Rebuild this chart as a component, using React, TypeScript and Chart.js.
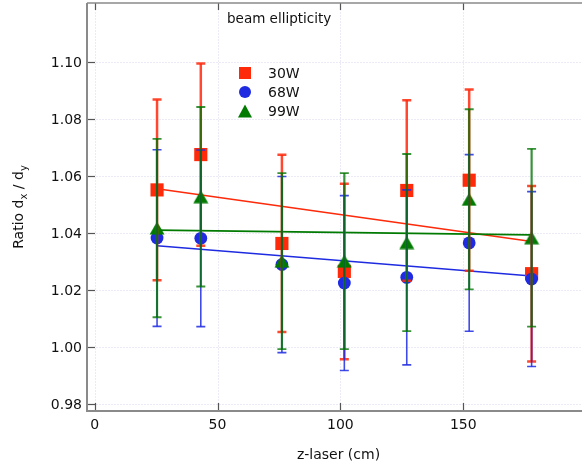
import React, { useEffect, useRef } from "react";
import { Chart, registerables } from "chart.js";

Chart.register(...registerables);

// ---- data ----
const xValues = [25.4, 43.2, 76.2, 101.6, 127, 152.4, 177.8];
const ratio30W = [1.0551, 1.0675, 1.0363, 1.0265, 1.0549, 1.0585, 1.0257];
const err30W = [0.0317, 0.032, 0.0311, 0.0308, 0.0317, 0.0318, 0.0308];
const ratio68W = [1.0382, 1.0381, 1.0289, 1.0224, 1.0244, 1.0365, 1.0238];
const err68W = [0.031, 0.031, 0.0309, 0.0307, 0.0307, 0.031, 0.0307];
const ratio99W = [1.0417, 1.0527, 1.0301, 1.0301, 1.0366, 1.0518, 1.0383];
const err99W = [0.0313, 0.0315, 0.0309, 0.0309, 0.0311, 0.0316, 0.0312];
const fitX = [25.4, 177.8];
const fit30W = [1.0555, 1.037];
const fit68W = [1.0355, 1.0249];
const fit99W = [1.041, 1.0393];
const seriesNames = ["30W", "68W", "99W"];
const xTicks = [0, 50, 100, 150];
const xTickLabels = ["0", "50", "100", "150"];
const yTicks = [0.98, 1.0, 1.02, 1.04, 1.06, 1.08, 1.1];
const yTickLabels = ["0.98", "1.00", "1.02", "1.04", "1.06", "1.08", "1.10"];
const legendTitle = "beam ellipticity";
const xTitle = "z-laser (cm)";

const RED = "#ff2a0a";
const BLUE = "#1e2be0";
const GREEN = "#007a00";
const FONT = "'DejaVu Sans', sans-serif";

function triangleImage(color: string) {
  const c = document.createElement("canvas");
  c.width = 16;
  c.height = 14;
  const g = c.getContext("2d")!;
  g.fillStyle = color;
  g.beginPath();
  g.moveTo(8, 0.5);
  g.lineTo(15.5, 13.5);
  g.lineTo(0.5, 13.5);
  g.closePath();
  g.fill();
  return c;
}

const pts = (ys: number[], xs: number[] = xValues) => xs.map((x, i) => ({ x, y: ys[i] }));

export default function App() {
  const ref = useRef<HTMLCanvasElement>(null);
  useEffect(() => {
    const canvas = ref.current!;
    const tri = triangleImage(GREEN);
    const errorSets = [
      { vals: ratio30W, errs: err30W, color: "rgba(255,40,10,0.85)", lw: 2.5, cw: 9, clw: 2.5 },
      { vals: ratio68W, errs: err68W, color: "rgba(30,43,224,0.85)", lw: 1.6, cw: 9, clw: 1.6 },
      { vals: ratio99W, errs: err99W, color: "rgba(0,115,0,0.78)", lw: 2.2, cw: 9, clw: 1.8 },
    ];

    const plugin = {
      id: "custom",
      beforeDatasetsDraw(chart: any) {
        const { ctx, chartArea: a } = chart;
        const xs = chart.scales.x;
        const ys = chart.scales.y;
        ctx.save();
        // grid
        ctx.strokeStyle = "#ebebf8";
        ctx.lineWidth = 1;
        ctx.setLineDash([2, 1]);
        ys.ticks.forEach((t: any) => {
          const py = Math.round(ys.getPixelForValue(t.value)) + 0.5;
          ctx.beginPath();
          ctx.moveTo(a.left, py);
          ctx.lineTo(a.right, py);
          ctx.stroke();
        });
        xs.ticks.forEach((t: any) => {
          const px = Math.round(xs.getPixelForValue(t.value)) + 0.5;
          ctx.beginPath();
          ctx.moveTo(px, a.top);
          ctx.lineTo(px, a.bottom);
          ctx.stroke();
        });
        ctx.setLineDash([]);
        // inward ticks
        ctx.strokeStyle = "#555";
        ctx.lineWidth = 1.2;
        ys.ticks.forEach((t: any) => {
          const py = Math.round(ys.getPixelForValue(t.value)) + 0.5;
          ctx.beginPath();
          ctx.moveTo(a.left, py);
          ctx.lineTo(a.left + 8, py);
          ctx.stroke();
        });
        xs.ticks.forEach((t: any) => {
          const px = Math.round(xs.getPixelForValue(t.value)) + 0.5;
          ctx.beginPath();
          ctx.moveTo(px, a.bottom);
          ctx.lineTo(px, a.bottom - 8);
          ctx.moveTo(px, a.top);
          ctx.lineTo(px, a.top + 7);
          ctx.stroke();
        });
        // borders
        ctx.strokeStyle = "#8a8a8a";
        ctx.lineWidth = 2;
        ctx.beginPath();
        ctx.moveTo(a.left, a.top);
        ctx.lineTo(a.left, a.bottom);
        ctx.lineTo(a.right, a.bottom);
        ctx.stroke();
        ctx.lineWidth = 1.5;
        ctx.beginPath();
        ctx.moveTo(a.left, a.top);
        ctx.lineTo(a.right, a.top);
        ctx.stroke();
        ctx.restore();
      },
      afterDatasetsDraw(chart: any) {
        const { ctx } = chart;
        const xs = chart.scales.x;
        const ys = chart.scales.y;
        ctx.save();
        errorSets.forEach((s) => {
          ctx.strokeStyle = s.color;
          xValues.forEach((xv, i) => {
            const px = xs.getPixelForValue(xv);
            const top = ys.getPixelForValue(s.vals[i] + s.errs[i]);
            const bot = ys.getPixelForValue(s.vals[i] - s.errs[i]);
            ctx.lineWidth = s.lw;
            ctx.beginPath();
            ctx.moveTo(px, top);
            ctx.lineTo(px, bot);
            ctx.stroke();
            ctx.lineWidth = s.clw;
            ctx.beginPath();
            ctx.moveTo(px - s.cw / 2, top);
            ctx.lineTo(px + s.cw / 2, top);
            ctx.moveTo(px - s.cw / 2, bot);
            ctx.lineTo(px + s.cw / 2, bot);
            ctx.stroke();
          });
        });
        ctx.restore();
      },
      afterDraw(chart: any) {
        const { ctx, chartArea: a } = chart;
        const xs = chart.scales.x;
        const ys = chart.scales.y;
        ctx.save();
        ctx.fillStyle = "#111";
        // y tick labels
        ctx.font = `14px ${FONT}`;
        ctx.textAlign = "right";
        ctx.textBaseline = "middle";
        ys.ticks.forEach((t: any, i: number) => {
          ctx.fillText(yTickLabels[i], a.left - 5, ys.getPixelForValue(t.value) + 1);
        });
        // x tick labels
        ctx.textAlign = "center";
        ctx.textBaseline = "top";
        xs.ticks.forEach((t: any, i: number) => {
          ctx.fillText(xTickLabels[i], xs.getPixelForValue(t.value), a.bottom + 7);
        });
        // x title
        ctx.textBaseline = "middle";
        ctx.fillText(xTitle, (a.left + a.right) / 2 + 4, 455);
        // y title with subscripts
        const parts: [string, boolean][] = [
          ["Ratio d", false],
          ["x", true],
          [" / d", false],
          ["y", true],
        ];
        const mainF = `14px ${FONT}`;
        const subF = `10px ${FONT}`;
        let total = 0;
        parts.forEach(([t, sub]) => {
          ctx.font = sub ? subF : mainF;
          total += ctx.measureText(t).width;
        });
        ctx.translate(23, (a.top + a.bottom) / 2);
        ctx.rotate(-Math.PI / 2);
        ctx.textAlign = "left";
        ctx.textBaseline = "alphabetic";
        let cx = -total / 2;
        parts.forEach(([t, sub]) => {
          ctx.font = sub ? subF : mainF;
          ctx.fillText(t, cx, sub ? 4 : 0);
          cx += ctx.measureText(t).width;
        });
        ctx.setTransform(1, 0, 0, 1, 0, 0);
        // legend
        ctx.font = `13.5px ${FONT}`;
        ctx.textAlign = "left";
        ctx.textBaseline = "middle";
        ctx.fillText(legendTitle, 227, 19);
        ctx.font = `14px ${FONT}`;
        const lx = 245;
        const rows = [73, 92, 111];
        ctx.fillStyle = RED;
        ctx.fillRect(lx - 6, rows[0] - 6, 12, 12);
        ctx.fillStyle = BLUE;
        ctx.beginPath();
        ctx.arc(lx, rows[1], 6, 0, Math.PI * 2);
        ctx.fill();
        ctx.fillStyle = GREEN;
        ctx.beginPath();
        ctx.moveTo(lx, rows[2] - 6.5);
        ctx.lineTo(lx + 7, rows[2] + 6.5);
        ctx.lineTo(lx - 7, rows[2] + 6.5);
        ctx.closePath();
        ctx.fill();
        ctx.fillStyle = "#111";
        seriesNames.forEach((n, i) => ctx.fillText(n, 268, rows[i] + 1));
        ctx.restore();
      },
    };

    const chart = new Chart(canvas, {
      type: "scatter",
      data: {
        datasets: [
          { type: "line", label: "fit30", data: pts(fit30W, fitX), borderColor: RED, borderWidth: 1.5, pointRadius: 0, order: 10 },
          { type: "line", label: "fit68", data: pts(fit68W, fitX), borderColor: BLUE, borderWidth: 1.5, pointRadius: 0, order: 11 },
          { type: "line", label: "fit99", data: pts(fit99W, fitX), borderColor: GREEN, borderWidth: 1.8, pointRadius: 0, order: 9 },
          { label: seriesNames[0], data: pts(ratio30W), pointStyle: "rect", pointRadius: 9.3, backgroundColor: RED, borderWidth: 0, order: 3 },
          { label: seriesNames[1], data: pts(ratio68W), pointStyle: "circle", pointRadius: 6.4, backgroundColor: BLUE, borderWidth: 0, order: 2 },
          { label: seriesNames[2], data: pts(ratio99W), pointStyle: tri as any, pointRadius: 8, backgroundColor: GREEN, borderWidth: 0, order: 1 },
        ] as any,
      },
      options: {
        animation: false,
        responsive: false,
        devicePixelRatio: 1,
        layout: { autoPadding: false, padding: { top: 3, right: 0, left: 0, bottom: 0 } },
        plugins: { legend: { display: false }, tooltip: { enabled: false } },
        scales: {
          x: {
            type: "linear",
            min: -3.1,
            max: 198.3,
            grid: { display: false },
            border: { display: false },
            ticks: { display: false },
            afterBuildTicks: (s: any) => {
              s.ticks = xTicks.map((v) => ({ value: v }));
            },
            afterFit: (s: any) => {
              s.height = 56;
            },
          },
          y: {
            type: "linear",
            min: 0.9775,
            max: 1.1207,
            grid: { display: false },
            border: { display: false },
            ticks: { display: false },
            afterBuildTicks: (s: any) => {
              s.ticks = yTicks.map((v) => ({ value: v }));
            },
            afterFit: (s: any) => {
              s.width = 87;
            },
          },
        },
      } as any,
      plugins: [plugin],
    });
    return () => chart.destroy();
  }, []);
  return (
    <div style={{ position: "fixed", left: 0, top: 0, width: 582, height: 467, background: "#fff" }}>
      <canvas ref={ref} width={582} height={467} />
    </div>
  );
}
